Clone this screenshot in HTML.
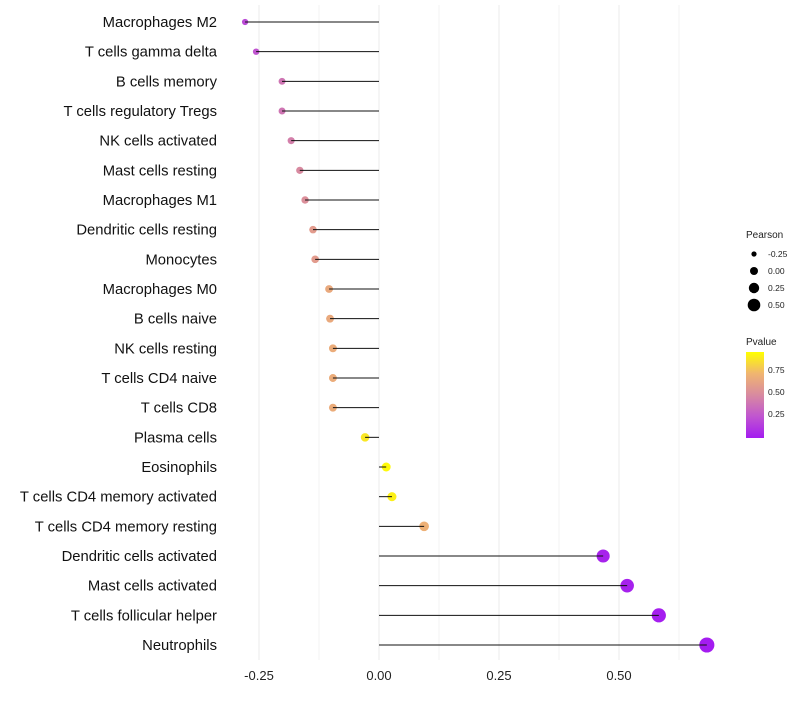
<!DOCTYPE html>
<html><head><meta charset="utf-8"><style>
body{margin:0;background:#fff;font-family:"Liberation Sans",sans-serif;}
</style></head><body>
<svg id="chart" width="800" height="700" xmlns="http://www.w3.org/2000/svg" font-family="Liberation Sans, sans-serif">
<defs><linearGradient id="pg" x1="0" y1="1" x2="0" y2="0">
<stop offset="0" stop-color="#a41cf0"/><stop offset="0.25" stop-color="#c055d0"/><stop offset="0.5" stop-color="#d88aa0"/><stop offset="0.75" stop-color="#f0b570"/><stop offset="1" stop-color="#ffff00"/></linearGradient></defs>
<g id="grid"></g>
<g id="marks"></g>
<g id="ylabels"></g>
<g id="xlabels"></g>
<g>
<text x="746" y="238" font-size="10" fill="#222">Pearson</text>
<circle cx="754" cy="254" r="2.6" fill="#000"/><text x="768" y="257" font-size="8.5" fill="#222">-0.25</text>
<circle cx="754" cy="271" r="4" fill="#000"/><text x="768" y="274" font-size="8.5" fill="#222">0.00</text>
<circle cx="754" cy="288" r="5.2" fill="#000"/><text x="768" y="291" font-size="8.5" fill="#222">0.25</text>
<circle cx="754" cy="305" r="6.3" fill="#000"/><text x="768" y="308" font-size="8.5" fill="#222">0.50</text>
</g>
<g>
<text x="746" y="345" font-size="10" fill="#222">Pvalue</text>
<rect x="746" y="352" width="18" height="86" fill="url(#pg)"/>
<text x="768" y="373" font-size="8.5" fill="#222">0.75</text>
<text x="768" y="395" font-size="8.5" fill="#222">0.50</text>
<text x="768" y="417" font-size="8.5" fill="#222">0.25</text>
</g>
</svg>
<script>
const categories=["Macrophages M2","T cells gamma delta","B cells memory","T cells regulatory  Tregs","NK cells activated","Mast cells resting","Macrophages M1","Dendritic cells resting","Monocytes","Macrophages M0","B cells naive","NK cells resting","T cells CD4 naive","T cells CD8","Plasma cells","Eosinophils","T cells CD4 memory activated","T cells CD4 memory resting","Dendritic cells activated","Mast cells activated","T cells follicular helper","Neutrophils"];
const pearson=[-0.279,-0.256,-0.202,-0.202,-0.183,-0.165,-0.154,-0.1375,-0.133,-0.104,-0.102,-0.096,-0.096,-0.096,-0.029,0.015,0.027,0.094,0.467,0.517,0.583,0.683];
const pvalue=[0.2,0.25,0.4,0.4,0.45,0.5,0.53,0.6,0.6,0.68,0.68,0.7,0.7,0.7,0.92,0.98,0.95,0.72,0.03,0.02,0.01,0.002];
const xTicks=[-0.25,0,0.25,0.5];
const xTickLabels=["-0.25","0.00","0.25","0.50"];
const NS="http://www.w3.org/2000/svg";
const xs=v=>379+v*480;
const ys=i=>22+i*(623/21);
const rs=p=>Math.max(1.8,4.4+4.6*p);
const stops=[[0,[164,28,240]],[0.25,[192,85,208]],[0.5,[216,138,160]],[0.75,[240,181,112]],[1,[255,255,0]]];
function col(p){for(let k=1;k<stops.length;k++){if(p<=stops[k][0]){const a=stops[k-1],b=stops[k],t=(p-a[0])/(b[0]-a[0]);return "rgb("+a[1].map((c,j)=>Math.round(c+(b[1][j]-c)*t)).join(",")+")";}}return "rgb(255,255,0)";}
function mk(t,at,parent){const e=document.createElementNS(NS,t);for(const k in at)e.setAttribute(k,at[k]);parent.appendChild(e);return e;}
const grid=document.getElementById('grid'),marks=document.getElementById('marks'),yl=document.getElementById('ylabels'),xl=document.getElementById('xlabels');
for(let v=-0.25;v<=0.626;v+=0.125){const l=mk('line',{x1:xs(v),x2:xs(v),y1:5,y2:660,stroke:'#ebebeb','stroke-width':Math.abs(v*4-Math.round(v*4))<1e-6?1:0.6},grid);

}
xTicks.forEach((v,i)=>{const t=mk('text',{x:xs(v),y:680,'font-size':13,'text-anchor':'middle',fill:'#222'},xl);t.textContent=xTickLabels[i];

});
categories.forEach((c,i)=>{const y=ys(i);
const t=mk('text',{x:217,y:y+5,'font-size':14.8,'text-anchor':'end',fill:'#111'},yl);t.textContent=c;


const ci=mk('circle',{cx:xs(pearson[i]),cy:y,r:rs(pearson[i]),fill:col(pvalue[i])},marks);


const l=mk('line',{x1:xs(0),x2:xs(pearson[i]),y1:y,y2:y,stroke:'#111','stroke-width':1},marks);

});
</script>
</body></html>
